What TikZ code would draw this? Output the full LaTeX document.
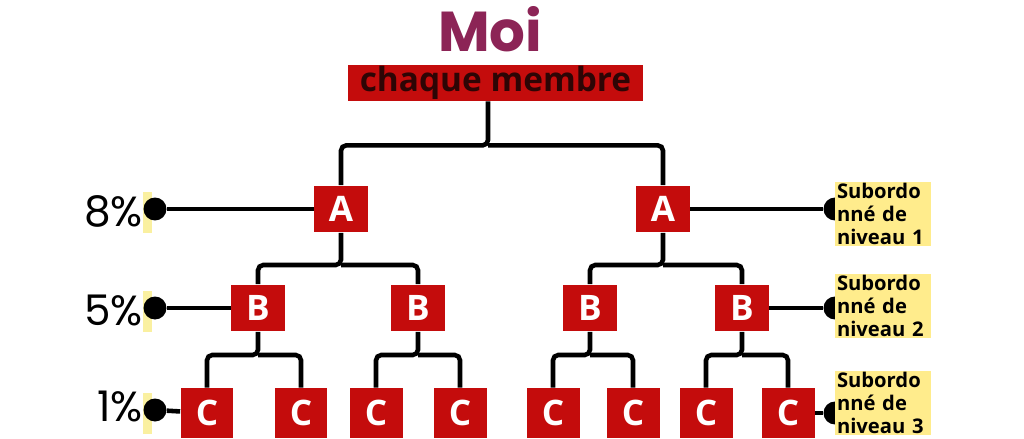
\documentclass[tikz,border=0pt]{standalone}
\usepackage{fontspec}
\setmainfont{Open Sans}
\newfontfamily\moifont{Poppins}
\usetikzlibrary{positioning}
\definecolor{rouge}{RGB}{196,12,12}
\definecolor{moi}{RGB}{140,36,86}
\definecolor{encre}{RGB}{45,5,5}
\definecolor{jaune}{RGB}{255,236,140}
\definecolor{pale}{RGB}{250,240,160}
\tikzset{
  box/.style={fill=rouge, text=white, font=\bfseries\fontsize{20}{20}\selectfont,
    minimum width=1.08cm, minimum height=0.94cm, inner sep=0pt},
  link/.style={line width=2.6pt, rounded corners=3pt},
  dot/.style={circle, fill=black, minimum size=0.46cm, inner sep=0pt},
  pct/.style={font=\moifont\fontsize{24}{24}\selectfont, anchor=east, inner sep=1pt},
  sub/.style={fill=jaune, font=\bfseries\fontsize{11.5}{13}\selectfont,
    align=left, text width=1.84cm, inner sep=1pt}
}
\begin{document}
\begin{tikzpicture}[x=0.02cm, y=-0.02cm]
    \useasboundingbox (0,0) rectangle (1024,439);

    \node[font=\moifont\bfseries\fontsize{32}{32}\selectfont, text=moi] (moi) at (490,29) {Moi};
    \node[fill=rouge, text=encre, font=\bfseries\fontsize{19}{19}\selectfont,
      minimum width=5.9cm, minimum height=0.72cm, inner sep=0pt] (membre) at (495.5,83) {chaque membre};

    \node[box] (a1) at (341,209) {A};
    \node[box] (a2) at (663,209) {A};
    \foreach \n\x in {1/258,2/418,3/590,4/742}{
      \node[box] (b\n) at (\x,308) {B};
    }
    \foreach \n\x in {1/207,2/301,3/376,4/460,5/553,6/633,7/706,8/788}{
      \node[box, minimum width=1.06cm, minimum height=1cm] (c\n) at (\x,413) {C};
    }

    \draw[link] ([xshift=-0.15cm]membre.south) -- ++(0,44) coordinate (j0) -| (a1);
    \draw[link] (j0) -| (a2);
    \foreach \a\l\r in {1/1/2,2/3/4}{
      \draw[link] (a\a) -- ++(0,56) coordinate (ja\a) -| (b\l);
      \draw[link] (ja\a) -| (b\r);
    }
    \foreach \b\l\r in {1/1/2,2/3/4,3/5/6,4/7/8}{
      \draw[link] (b\b) -- ++(0,47) coordinate (jb\b) -| (c\l);
      \draw[link] (jb\b) -| (c\r);
    }

    % left side
    \foreach \y\t\row\dy in {209/8/a1/2,308/5/b1/2,410/1/c1/-3}{
      \fill[pale] (143,{\y-17}) rectangle (152,{\y+24});
      \node[pct] (p\t) at (145,{\y+\dy}) {\t\%};
      \node[dot] (d\t) at (155,\y) {};
      \draw[link] (d\t) -- (\row);
    }

    % right side
    \foreach \n\y\row in {1/209/a2,2/308/b4,3/413/c8}{
      \node[dot] (e\n) at (835,\y) {};
      \draw[link] (\row) -- (e\n);
    }
    \node[sub] (s1) at (883,214) {Subordo\\ nné de\\niveau 1};
    \node[sub] (s2) at (883,306) {Subordo\\ nné de\\niveau 2};
    \node[sub] (s3) at (883,403) {Subordo\\ nné de\\niveau 3};
\end{tikzpicture}
\end{document}
